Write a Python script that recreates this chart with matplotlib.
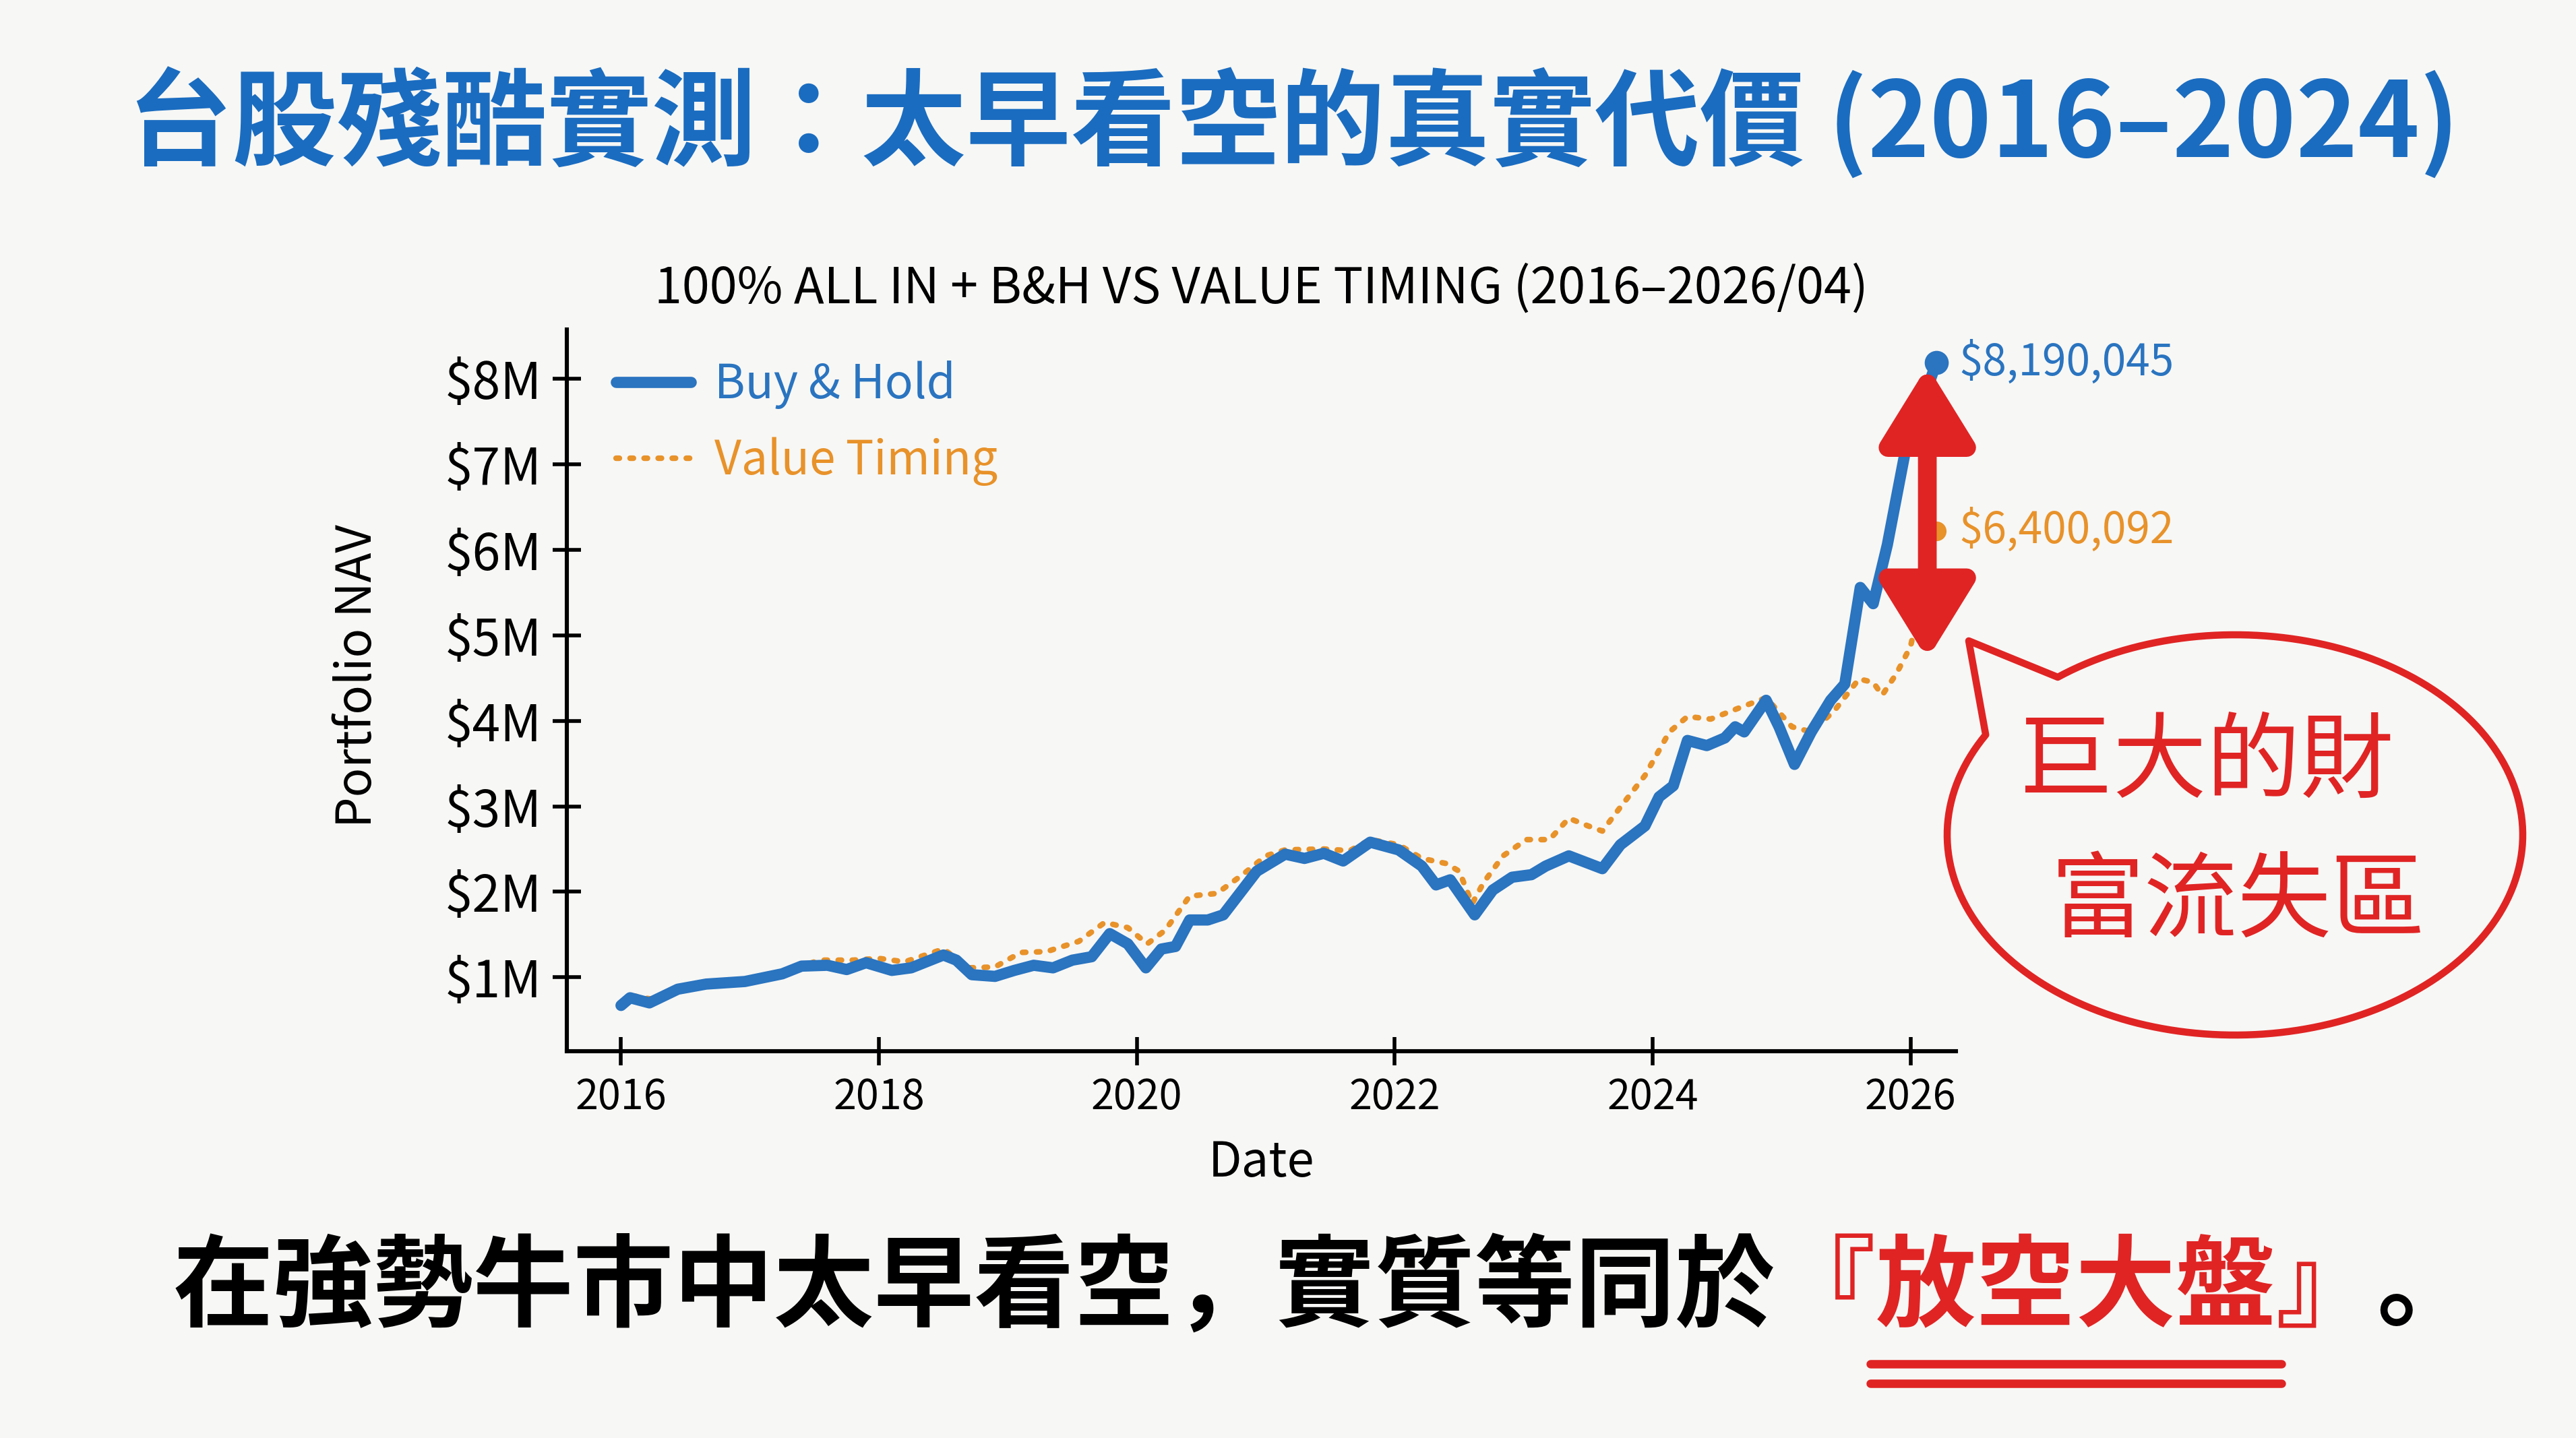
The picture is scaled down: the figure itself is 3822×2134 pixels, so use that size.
import matplotlib
matplotlib.use("Agg")
import matplotlib.pyplot as plt
import numpy as np
from matplotlib.path import Path
from matplotlib.patches import PathPatch

plt.rcParams['font.family'] = ['Noto Sans CJK TC', 'DejaVu Sans']

# Buy & Hold NAV (millions), decimal years
bh_year = [2016.00, 2016.07, 2016.22, 2016.44, 2016.66, 2016.96, 2017.25, 2017.40, 2017.60, 2017.75,
           2017.90, 2018.10, 2018.25, 2018.50, 2018.60, 2018.72, 2018.90, 2019.05, 2019.20, 2019.35,
           2019.50, 2019.65, 2019.79, 2019.93, 2020.07, 2020.19, 2020.30, 2020.41, 2020.55, 2020.67,
           2020.93, 2021.15, 2021.30, 2021.45, 2021.60, 2021.81, 2022.03, 2022.21, 2022.32, 2022.43,
           2022.62, 2022.76, 2022.91, 2023.06, 2023.17, 2023.35, 2023.61, 2023.75, 2023.94, 2024.05,
           2024.16, 2024.27, 2024.42, 2024.56, 2024.64, 2024.71, 2024.88, 2024.98, 2025.10, 2025.23,
           2025.38, 2025.49, 2025.61, 2025.71, 2025.82, 2025.96, 2026.20]
bh_nav = [0.67, 0.76, 0.70, 0.86, 0.92, 0.95, 1.04, 1.13, 1.14, 1.09,
          1.17, 1.08, 1.11, 1.26, 1.20, 1.03, 1.01, 1.08, 1.14, 1.11,
          1.20, 1.24, 1.51, 1.39, 1.11, 1.33, 1.36, 1.67, 1.67, 1.73,
          2.24, 2.44, 2.39, 2.45, 2.36, 2.58, 2.49, 2.30, 2.08, 2.14,
          1.73, 2.02, 2.17, 2.20, 2.30, 2.42, 2.27, 2.55, 2.77, 3.11,
          3.24, 3.77, 3.71, 3.80, 3.93, 3.87, 4.24, 3.93, 3.49, 3.87,
          4.24, 4.43, 5.56, 5.37, 6.06, 7.16, 8.190045]

# Value Timing NAV (millions)
vt_year = [2016.00, 2016.10, 2016.25, 2016.50, 2016.80, 2017.00, 2017.30, 2017.54, 2017.80, 2018.00,
           2018.20, 2018.50, 2018.70, 2018.90, 2019.10, 2019.30, 2019.55, 2019.75, 2019.93, 2020.08,
           2020.22, 2020.41, 2020.62, 2020.82, 2021.00, 2021.15, 2021.45, 2021.65, 2021.81, 2022.03,
           2022.21, 2022.40, 2022.50, 2022.60, 2022.69, 2022.84, 2023.02, 2023.20, 2023.35, 2023.50,
           2023.61, 2023.75, 2023.94, 2024.13, 2024.27, 2024.45, 2024.67, 2024.88, 2025.08, 2025.23,
           2025.41, 2025.60, 2025.71, 2025.78, 2025.89, 2026.00, 2026.20]
vt_nav = [0.70, 0.78, 0.74, 0.89, 0.95, 0.98, 1.08, 1.20, 1.20, 1.22,
          1.18, 1.33, 1.11, 1.12, 1.29, 1.30, 1.42, 1.64, 1.58, 1.39,
          1.55, 1.95, 1.98, 2.20, 2.42, 2.49, 2.50, 2.48, 2.61, 2.55,
          2.39, 2.33, 2.24, 1.86, 2.11, 2.42, 2.61, 2.61, 2.86, 2.77,
          2.71, 2.99, 3.36, 3.87, 4.05, 4.02, 4.15, 4.27, 3.93, 3.87,
          4.12, 4.49, 4.45, 4.30, 4.55, 4.87, 6.22]

bh_end_label = '$8,190,045'
vt_end_label = '$6,400,092'

year_ticks = [2016, 2018, 2020, 2022, 2024, 2026]
nav_ticks = [1, 2, 3, 4, 5, 6, 7, 8]
nav_tick_labels = ['$%dM' % v for v in nav_ticks]

BLUE = '#2a74c0'
ORANGE = '#e8922a'
RED = '#e02424'
TITLE_BLUE = '#1a6cc0'
BG = '#f7f7f5'

W, H = 3823, 2134
fig = plt.figure(figsize=(W / 200, H / 200), dpi=200, facecolor=BG)

ax = fig.add_axes([0.220, 0.269, 0.539, 0.502])
ax.set_facecolor(BG)

bh = np.array(bh_nav) * 1e6
vt = np.array(vt_nav) * 1e6
ax.plot(vt_year, vt, color=ORANGE, lw=3, ls=(0, (0.6, 1.9)), dash_capstyle='round',
        label='Value Timing', zorder=3)
ax.plot(bh_year, bh, color=BLUE, lw=6, solid_capstyle='round', solid_joinstyle='round',
        label='Buy & Hold', zorder=4)

ax.set_xlim(2015.58, 2026.35)
ax.set_ylim(0.135e6, 8.58e6)
ax.set_xticks(year_ticks)
ax.set_xticklabels([str(y) for y in year_ticks])
ax.set_yticks([v * 1e6 for v in nav_ticks])
ax.set_yticklabels(nav_tick_labels)
ax.tick_params(axis='both', direction='inout', length=15, width=2, pad=6)
ax.tick_params(axis='x', labelsize=22)
ax.tick_params(axis='y', labelsize=27)
for lab in ax.get_xticklabels() + ax.get_yticklabels():
    lab.set_fontweight('medium')
for s in ['top', 'right']:
    ax.spines[s].set_visible(False)
for s in ['left', 'bottom']:
    ax.spines[s].set_linewidth(2.2)

ax.set_xlabel('Date', fontsize=26, fontweight='medium')
ax.xaxis.set_label_coords(0.50, -0.12)
ax.set_ylabel('Portfolio NAV', fontsize=26, fontweight='medium')
ax.yaxis.set_label_coords(-0.133, 0.52)

handles, labels = ax.get_legend_handles_labels()
leg = ax.legend(handles[::-1], labels[::-1], loc='upper left', bbox_to_anchor=(0.005, 1.015),
                frameon=False, fontsize=25, handlelength=1.6, labelspacing=0.6,
                handletextpad=0.5, labelcolor='linecolor')
for t in leg.get_texts():
    t.set_fontweight('medium')

# end markers and value labels
ax.scatter([bh_year[-1]], [bh[-1]], s=140, color=BLUE, zorder=6)
ax.scatter([vt_year[-1]], [vt[-1]], s=90, color=ORANGE, zorder=6)
ax.annotate(bh_end_label, (bh_year[-1], bh[-1]), xytext=(12, 0), textcoords='offset points',
            va='center', ha='left', fontsize=23, color=BLUE, fontweight='medium',
            annotation_clip=False)
ax.annotate(vt_end_label, (vt_year[-1], vt[-1]), xytext=(12, 0), textcoords='offset points',
            va='center', ha='left', fontsize=23, color=ORANGE, fontweight='medium',
            annotation_clip=False)

# red gap arrow
ax.annotate('', xy=(2026.13, 8.15e6), xytext=(2026.13, 4.72e6),
            arrowprops=dict(arrowstyle='<|-|>,head_width=0.21,head_length=0.34',
                            mutation_scale=100, lw=10, color=RED, shrinkA=0, shrinkB=0),
            annotation_clip=False, zorder=7)

ax.set_title('100% ALL IN + B&H VS VALUE TIMING (2016\u20132026/04)', fontsize=26.5,
             fontweight='medium', pad=14)

# overlay in pixel coordinates for bubble
ov = fig.add_axes([0, 0, 1, 1], facecolor='none')
ov.set_xlim(0, W)
ov.set_ylim(H, 0)
ov.axis('off')

cx, cy, a, b = 3316, 1239, 427, 297
th = np.radians(np.linspace(150, 488, 200))
pts = [(cx + a * np.cos(t), cy - b * np.sin(t)) for t in th]
pts.append((2921, 951))
pts.append(pts[0])
codes = [Path.MOVETO] + [Path.LINETO] * (len(pts) - 2) + [Path.CLOSEPOLY]
ov.add_patch(PathPatch(Path(pts, codes), facecolor='none', edgecolor=RED, lw=3.8,
                       joinstyle='round'))
ov.text(3274, 1134, '巨大的財', fontsize=50, color=RED, ha='center', va='center',
        fontweight='medium')
ov.text(3321, 1341, '富流失區', fontsize=50, color=RED, ha='center', va='center',
        fontweight='medium')

# main title
fig.text(0.502, 0.914, '台股殘酷實測：太早看空的真實代價 (2016\u20132024)', fontsize=56,
         color=TITLE_BLUE, ha='center', va='center', fontweight='bold')

# bottom statement with coloured part
renderer = fig.canvas.get_renderer()
FW = fig.bbox.width
fs = 53.5
em = fs * 200 / 72
jp = ['Noto Sans CJK JP', 'DejaVu Sans']
yb = 0.103


def put(x_px, s, color):
    t = fig.text(x_px / FW, yb, s, fontsize=fs, color=color, ha='left', va='center',
                 fontweight='bold', family=jp)
    return t.get_window_extent(renderer)


bb1 = put(0.067 * FW, '在強勢牛市中太早看空，實質等同於', 'black')
bbq1 = put(bb1.x1, '『', RED)
bb2 = put(bbq1.x1, '放空大盤', RED)
bbq2 = put(bb2.x1, '』', RED)
put(bbq2.x1, '。', 'black')

ux0 = bb2.x0 - 0.05 * em
ux1 = bb2.x1 + 0.05 * em
for py in [2024, 2053]:
    ov.plot([ux0 / FW * W, ux1 / FW * W], [py, py], color=RED,
            lw=4.5, solid_capstyle='round')

fig.savefig('out.png', dpi=200, facecolor=BG)
